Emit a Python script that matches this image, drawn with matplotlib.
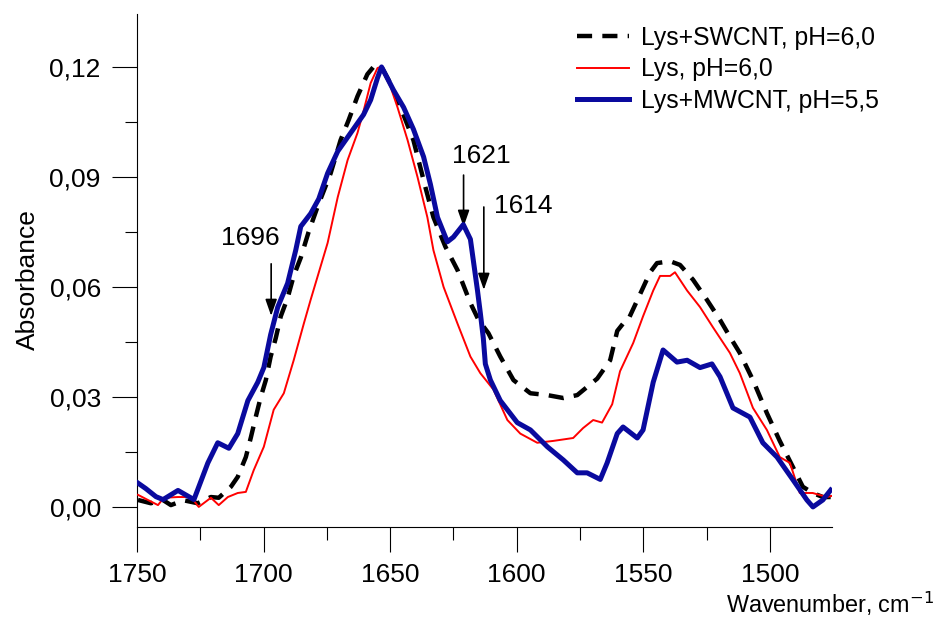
import matplotlib
matplotlib.use("Agg")
import matplotlib.pyplot as plt
from matplotlib.ticker import MultipleLocator, FuncFormatter

plt.rcParams['font.family'] = ['Liberation Sans', 'DejaVu Sans']

# Lys+SWCNT, pH=6,0 (black dashed)
wn_sw = [1749.6, 1744.5, 1740.0, 1736.6, 1731.5, 1726.0, 1720.8, 1717.7, 1712.9, 1710.2,
         1707.0, 1705.0, 1703.1, 1701.1, 1699.1, 1697.2, 1695.2, 1693.2, 1690.5, 1688.1,
         1685.3, 1682.2, 1678.6, 1673.5, 1669.6, 1666.4, 1662.9, 1659.0, 1656.6, 1653.4,
         1649.5, 1645.9, 1640.8, 1636.0, 1632.9, 1628.2, 1623.4, 1618.3, 1615.1, 1611.2,
         1606.5, 1601.3, 1594.6, 1587.9, 1581.6, 1576.1, 1568.2, 1563.1, 1560.3, 1558.0,
         1556.0, 1551.3, 1547.3, 1544.6, 1539.4, 1535.5, 1530.4, 1524.9, 1519.7, 1515.8,
         1511.9, 1506.7, 1501.2, 1496.1, 1491.0, 1487.0, 1483.1, 1479.1, 1476.0]
ab_sw = [0.0019, 0.0010, 0.0020, 0.0005, 0.0018, 0.0010, 0.0027, 0.0025, 0.0055, 0.0082,
         0.0136, 0.0190, 0.0245, 0.0300, 0.0346, 0.0410, 0.0460, 0.0520, 0.0570, 0.0630,
         0.0680, 0.0750, 0.0820, 0.0910, 0.1000, 0.1055, 0.1120, 0.1180, 0.1200, 0.1200,
         0.1150, 0.1090, 0.1000, 0.0870, 0.0790, 0.0710, 0.0646, 0.0556, 0.0510, 0.0474,
         0.0410, 0.0346, 0.0310, 0.0305, 0.0297, 0.0305, 0.0350, 0.0400, 0.0480, 0.0500,
         0.0510, 0.0580, 0.0640, 0.0665, 0.0670, 0.0660, 0.0620, 0.0565, 0.0510, 0.0464,
         0.0420, 0.0346, 0.0256, 0.0180, 0.0110, 0.0055, 0.0038, 0.0027, 0.0027]

# Lys, pH=6,0 (red)
wn_lys = [1749.6, 1745.7, 1741.7, 1739.4, 1733.8, 1728.7, 1725.6, 1720.8, 1717.7, 1714.1,
          1710.2, 1707.0, 1703.9, 1699.9, 1696.0, 1692.0, 1688.1, 1684.1, 1681.4, 1674.7,
          1670.7, 1666.8, 1662.9, 1660.5, 1657.7, 1655.0, 1653.8, 1649.8, 1647.1, 1643.1,
          1639.2, 1635.3, 1632.9, 1628.9, 1623.4, 1618.3, 1614.4, 1609.2, 1603.7, 1598.6,
          1591.9, 1585.6, 1577.7, 1573.8, 1569.8, 1566.3, 1562.3, 1559.2, 1554.0, 1550.1,
          1546.1, 1543.4, 1539.4, 1537.5, 1532.7, 1527.6, 1522.5, 1515.8, 1511.9, 1506.7,
          1501.2, 1496.1, 1492.1, 1488.2, 1483.1, 1477.5, 1475.6]
ab_lys = [0.0033, 0.0019, 0.0005, 0.0025, 0.0027, 0.0027, 0.0000, 0.0025, 0.0005, 0.0027,
          0.0038, 0.0041, 0.0100, 0.0164, 0.0265, 0.0310, 0.0400, 0.0500, 0.0565, 0.0720,
          0.0845, 0.0946, 0.1020, 0.1080, 0.1156, 0.1197, 0.1200, 0.1145, 0.1090, 0.1000,
          0.0900, 0.0790, 0.0700, 0.0600, 0.0500, 0.0410, 0.0365, 0.0320, 0.0237, 0.0200,
          0.0175, 0.0180, 0.0188, 0.0215, 0.0237, 0.0230, 0.0280, 0.0370, 0.0447, 0.0520,
          0.0590, 0.0630, 0.0630, 0.0640, 0.0590, 0.0545, 0.0490, 0.0420, 0.0365, 0.0270,
          0.0210, 0.0136, 0.0120, 0.0038, 0.0038, 0.0027, 0.0030]

# Lys+MWCNT, pH=5,5 (blue)
wn_mw = [1749.6, 1746.5, 1742.5, 1739.7, 1733.8, 1727.5, 1722.0, 1718.1, 1713.7, 1710.2,
         1706.2, 1702.3, 1699.9, 1697.2, 1694.4, 1690.5, 1687.3, 1685.3, 1681.4, 1678.2,
         1674.7, 1670.7, 1665.6, 1660.5, 1657.7, 1655.0, 1653.4, 1648.7, 1644.7, 1640.8,
         1636.8, 1634.1, 1631.3, 1627.4, 1625.0, 1621.1, 1618.3, 1617.1, 1615.5, 1614.4,
         1613.2, 1612.4, 1610.4, 1606.5, 1599.8, 1594.6, 1587.9, 1581.6, 1576.1, 1572.2,
         1567.0, 1564.3, 1560.3, 1558.0, 1552.4, 1550.1, 1546.1, 1542.2, 1536.7, 1532.7,
         1527.6, 1522.9, 1519.7, 1515.8, 1514.6, 1507.9, 1502.8, 1497.2, 1490.9, 1485.4,
         1483.0, 1479.1, 1476.0]
ab_mw = [0.0065, 0.0050, 0.0028, 0.0020, 0.0045, 0.0020, 0.0120, 0.0175, 0.0160, 0.0200,
         0.0290, 0.0340, 0.0380, 0.0470, 0.0545, 0.0610, 0.0700, 0.0765, 0.0800, 0.0840,
         0.0910, 0.0970, 0.1020, 0.1070, 0.1110, 0.1170, 0.1200, 0.1137, 0.1090, 0.1030,
         0.0955, 0.0880, 0.0790, 0.0723, 0.0736, 0.0770, 0.0730, 0.0670, 0.0590, 0.0530,
         0.0460, 0.0390, 0.0346, 0.0290, 0.0230, 0.0210, 0.0164, 0.0128, 0.0093, 0.0093,
         0.0075, 0.0120, 0.0200, 0.0218, 0.0188, 0.0210, 0.0340, 0.0428, 0.0395, 0.0400,
         0.0380, 0.0390, 0.0355, 0.0290, 0.0270, 0.0245, 0.0175, 0.0136, 0.0074, 0.0019,
         0.0000, 0.0019, 0.0046]

labels = ["Lys+SWCNT, pH=6,0", "Lys, pH=6,0", "Lys+MWCNT, pH=5,5"]
x_ticks = [1750, 1700, 1650, 1600, 1550, 1500]
y_ticks = [0.00, 0.03, 0.06, 0.09, 0.12]

FS = 19

fig = plt.figure(figsize=(9.35, 6.26), dpi=100)
ax = fig.add_axes([0.1465, 0.158, 0.743, 0.82])

ax.plot(wn_sw, ab_sw, color='black', lw=3.2, dashes=(3.4, 2.3), dash_capstyle='butt',
        label=labels[0], zorder=2)
ax.plot(wn_lys, ab_lys, color='#ff0000', lw=1.4, label=labels[1], zorder=3)
ax.plot(wn_mw, ab_mw, color='#0a0a9e', lw=3.6, label=labels[2], zorder=4,
        solid_joinstyle='round')

ax.set_xlim(1750, 1475.6)
ax.set_ylim(-0.0055, 0.1345)
ax.set_xticks(x_ticks)
ax.set_yticks(y_ticks)
ax.xaxis.set_minor_locator(MultipleLocator(25))
ax.yaxis.set_minor_locator(MultipleLocator(0.015))
ax.yaxis.set_major_formatter(FuncFormatter(lambda v, p: f"{v:.2f}".replace('.', ',')))
ax.tick_params(which='major', direction='out', length=18, width=0.8, labelsize=FS, pad=8)
ax.tick_params(which='minor', direction='out', length=9, width=0.8)
for s in ['top', 'right']:
    ax.spines[s].set_visible(False)
for s in ['left', 'bottom']:
    ax.spines[s].set_linewidth(0.8)

fig.text(0.030, 0.553, "Absorbance", rotation=90, ha='center', va='center', fontsize=FS)
fig.text(0.999, 0.012, "Wavenumber, cm$^{-1}$", ha='right', va='bottom', fontsize=16.8)

leg = ax.legend(loc='upper right', bbox_to_anchor=(1.09, 1.005), frameon=False, fontsize=17.8,
                handlelength=2.1, handletextpad=0.5, labelspacing=0.3, borderaxespad=0.2)

arrow = dict(arrowstyle='-|>,head_length=1.0,head_width=0.35', color='black', lw=1.2,
             shrinkA=0, shrinkB=0)
ax.annotate('', xy=(1697.0, 0.0521), xytext=(1697.0, 0.0663), arrowprops=arrow)
ax.text(1705.4, 0.0734, "1696", ha='center', va='center', fontsize=FS)
ax.annotate('', xy=(1621.0, 0.0764), xytext=(1621.0, 0.0905), arrowprops=arrow)
ax.text(1614.0, 0.0956, "1621", ha='center', va='center', fontsize=FS)
ax.annotate('', xy=(1613.0, 0.0592), xytext=(1613.0, 0.0818), arrowprops=arrow)
ax.text(1597.4, 0.0821, "1614", ha='center', va='center', fontsize=FS)

fig.savefig("out.png", dpi=100)
